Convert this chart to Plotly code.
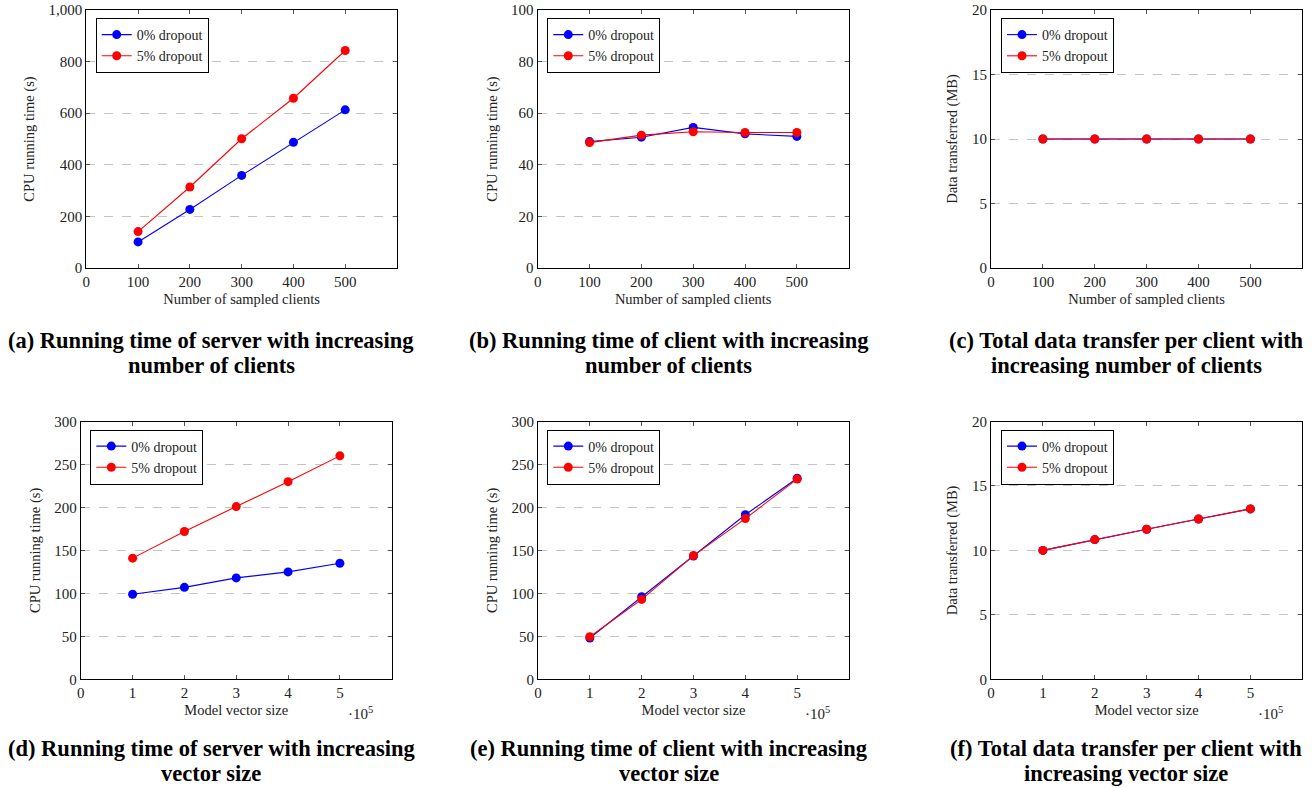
import plotly.graph_objects as go

# ---------------- data ----------------
clients = [100, 200, 300, 400, 500]
vec_size = [1, 2, 3, 4, 5]  # x 10^5

server_clients_0 = [101, 227, 359, 487, 613]
server_clients_5 = [141, 314, 501, 658, 843]

client_clients_0 = [49.0, 50.7, 54.5, 52.0, 51.0]
client_clients_5 = [48.6, 51.5, 52.8, 52.5, 52.5]

data_clients_0 = [10.0, 10.0, 10.0, 10.0, 10.0]
data_clients_5 = [10.0, 10.0, 10.0, 10.0, 10.0]

server_vec_0 = [99, 107, 118, 125, 135]
server_vec_5 = [141, 172, 201, 230, 260]

client_vec_0 = [48, 96, 143.5, 191.5, 234]
client_vec_5 = [49.5, 93, 144, 187, 233]

data_vec_0 = [10.0, 10.84, 11.64, 12.44, 13.22]
data_vec_5 = [10.0, 10.84, 11.64, 12.44, 13.22]

series_names = ["0% dropout", "5% dropout"]
x_ticks_clients = [0, 100, 200, 300, 400, 500]
x_ticks_vec = [0, 1, 2, 3, 4, 5]

captions = [
    ("(a) Running time of server with increasing", "number of clients"),
    ("(b) Running time of client with increasing", "number of clients"),
    ("(c) Total data transfer per client with", "increasing number of clients"),
    ("(d) Running time of server with increasing", "vector size"),
    ("(e) Running time of client with increasing", "vector size"),
    ("(f) Total data transfer per client with", "increasing vector size"),
]

# ---------------- layout constants ----------------
W, H = 1316, 788
FONT = "Liberation Serif"
BLUE = "#0000ff"
RED = "#ff0000"
TXT = "#222222"

def px_x(p):
    return p / W

def px_y(p):
    return 1 - p / H

panels = [
    dict(x=clients, y0=server_clients_0, y1=server_clients_5, xr=[0, 600], xt=x_ticks_clients,
         yr=[0, 1000], yd=200, ytitle="CPU running time (s)", xtitle="Number of sampled clients",
         px=(86.3, 397), py=(10, 268), leg=(95.7, 18), cap=(211, 340, 365), fmt=","),
    dict(x=clients, y0=client_clients_0, y1=client_clients_5, xr=[0, 600], xt=x_ticks_clients,
         yr=[0, 100], yd=20, ytitle="CPU running time (s)", xtitle="Number of sampled clients",
         px=(537.7, 848.7), py=(10, 268), leg=(547.3, 18), cap=(668.5, 340, 365), fmt=""),
    dict(x=clients, y0=data_clients_0, y1=data_clients_5, xr=[0, 600], xt=x_ticks_clients,
         yr=[0, 20], yd=5, ytitle="Data transferred (MB)", xtitle="Number of sampled clients",
         px=(991, 1302.3), py=(10, 268), leg=(1001, 18), cap=(1126, 340, 365), fmt=""),
    dict(x=vec_size, y0=server_vec_0, y1=server_vec_5, xr=[0, 6], xt=x_ticks_vec,
         yr=[0, 300], yd=50, ytitle="CPU running time (s)", xtitle="Model vector size",
         px=(80.8, 391.7), py=(421.5, 679.3), leg=(90.3, 429.5), cap=(211, 748, 773), fmt="",
         exp=(360, 713)),
    dict(x=vec_size, y0=client_vec_0, y1=client_vec_5, xr=[0, 6], xt=x_ticks_vec,
         yr=[0, 300], yd=50, ytitle="CPU running time (s)", xtitle="Model vector size",
         px=(538, 849), py=(421.5, 679.3), leg=(547.3, 429.5), cap=(668.5, 748, 773), fmt="",
         exp=(817, 713)),
    dict(x=vec_size, y0=data_vec_0, y1=data_vec_5, xr=[0, 6], xt=x_ticks_vec,
         yr=[0, 20], yd=5, ytitle="Data transferred (MB)", xtitle="Model vector size",
         px=(991, 1302.3), py=(421.5, 679.3), leg=(1001, 429.5), cap=(1126, 748, 773), fmt="",
         exp=(1270, 713)),
]

fig = go.Figure()
annotations = []
layout = {}

for i, p in enumerate(panels, start=1):
    xa = "x" if i == 1 else f"x{i}"
    ya = "y" if i == 1 else f"y{i}"
    leg = "legend" if i == 1 else f"legend{i}"
    for name, ys, col in [(series_names[0], p["y0"], BLUE), (series_names[1], p["y1"], RED)]:
        fig.add_trace(go.Scatter(
            x=p["x"], y=ys, name=name, mode="lines+markers",
            line=dict(color=col, width=1.1),
            marker=dict(color=col, size=9, line=dict(width=0)),
            xaxis=xa, yaxis=ya, legend=leg, showlegend=True,
        ))
    common = dict(
        showline=True, linecolor="black", linewidth=1.2, mirror="allticks",
        ticks="inside", ticklen=4, tickcolor="#555", tickwidth=1,
        tickfont=dict(family=FONT, size=15, color=TXT),
        zeroline=False, automargin=False,
    )
    layout[f"xaxis{'' if i == 1 else i}"] = dict(
        domain=[px_x(p["px"][0]), px_x(p["px"][1])],
        anchor=ya, range=p["xr"], tickvals=p["xt"], showgrid=False,
        title=dict(text=p["xtitle"], font=dict(family=FONT, size=14.5, color=TXT), standoff=4),
        **common,
    )
    layout[f"yaxis{'' if i == 1 else i}"] = dict(
        domain=[px_y(p["py"][1]), px_y(p["py"][0])],
        anchor=xa, range=p["yr"], dtick=p["yd"], tick0=0, tickformat=p["fmt"],
        showgrid=True, gridcolor="#c4c4c4", griddash="dash", gridwidth=1,
        title=dict(text=p["ytitle"], font=dict(family=FONT, size=14.5, color=TXT), standoff=10),
        **common,
    )
    layout[leg] = dict(
        x=px_x(p["leg"][0]), y=px_y(p["leg"][1]), xanchor="left", yanchor="top",
        xref="paper", yref="paper",
        bordercolor="black", borderwidth=1, bgcolor="white",
        font=dict(family=FONT, size=14, color=TXT),
        itemwidth=30, tracegroupgap=0,
    )
    l1, l2 = captions[i - 1]
    for txt, yy in [(l1, p["cap"][1]), (l2, p["cap"][2])]:
        annotations.append(dict(
            x=px_x(p["cap"][0]), y=px_y(yy), xref="paper", yref="paper",
            xanchor="center", yanchor="middle", showarrow=False,
            text="<b>" + txt + "</b>",
            font=dict(family=FONT, size=22.5, color="black"),
        ))
    if "exp" in p:
        annotations.append(dict(
            x=px_x(p["exp"][0]), y=px_y(p["exp"][1]), xref="paper", yref="paper",
            xanchor="center", yanchor="middle", showarrow=False,
            text="·10<sup>5</sup>", font=dict(family=FONT, size=15, color=TXT),
        ))

fig.update_layout(
    width=W, height=H, margin=dict(l=0, r=0, t=0, b=0, autoexpand=False),
    paper_bgcolor="white", plot_bgcolor="white",
    font=dict(family=FONT, color=TXT),
    annotations=annotations,
    **layout,
)

fig.write_html(
    "out.html",
    config={"displayModeBar": False},
    post_script="document.body.style.margin='0px';document.body.style.overflow='hidden';",
)
